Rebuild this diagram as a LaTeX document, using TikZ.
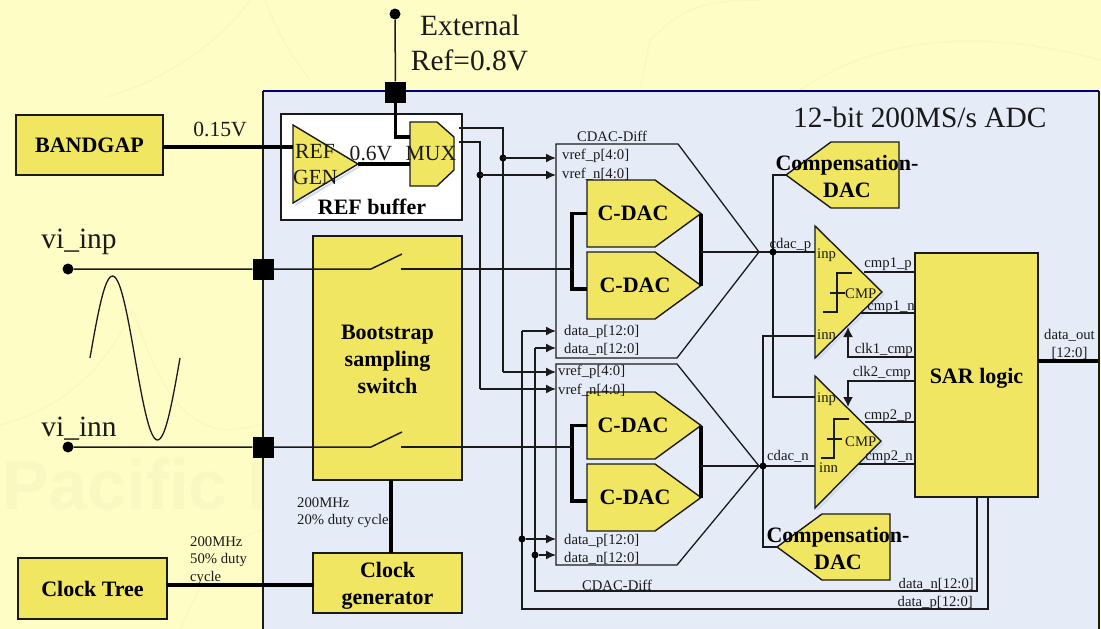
\documentclass[tikz,border=0pt]{standalone}
\usepackage{fontspec}
\setmainfont{Liberation Serif}
\newfontfamily\wmfont{Liberation Sans}
\usetikzlibrary{arrows.meta}
\definecolor{bgy}{HTML}{FFFDC6}
\definecolor{wm}{HTML}{F9F7C2}
\definecolor{panel}{HTML}{E6ECF7}
\definecolor{ybox}{HTML}{F0E662}
\definecolor{ink}{HTML}{1A1A1A}
\definecolor{shade}{HTML}{CDDCF0}
\newcommand{\fs}[1]{\fontsize{#1}{#1}\selectfont}
\newcommand{\ybfont}{\bfseries\fontsize{22}{27}\selectfont}
\tikzset{
 x=1pt,y=-1pt,
 wire/.style={draw=ink,line width=1.5pt},
 thick wire/.style={draw=black,line width=3.2pt},
 arr/.style={wire,-{Latex[length=10pt,width=9pt]}},
 yb/.style={draw=ink,fill=ybox,line width=1.4pt},
 ybn/.style={yb,rectangle,anchor=north west,inner sep=0pt,outer sep=0pt,align=center,font=\ybfont},
 sq/.style={fill=black,minimum size=21pt,inner sep=0pt},
 pin/.style={circle,fill=black,minimum size=11pt,inner sep=0pt},
 jdb/.style={circle,fill=black,minimum size=7pt,inner sep=0pt},
 sm/.style={inner sep=0pt,text=ink,font=\fs{14.7},yshift=-1pt},
 big/.style={inner sep=0pt,text=ink,font=\fs{29.4},yshift=-1pt},
 bl/.style={inner sep=0pt,text=black,font=\ybfont},
 mid/.style={inner sep=0pt,text=ink,font=\fs{21.6}},
 shadeline/.style={draw=shade,line width=2pt},
}
\begin{document}
\begin{tikzpicture}
\useasboundingbox (0,0) rectangle (1101,629);
\fill[bgy] (0,0) rectangle (1101,629);
% faint watermark
\begin{scope}[draw=wm,line width=1.5pt]
\draw (107,97) .. controls (180,75) and (230,30) .. (250,0);
\draw (265,0) .. controls (280,40) and (295,60) .. (310,80);
\draw (0,425) .. controls (60,410) and (105,370) .. (133,310);
\draw (133,310) .. controls (150,360) and (175,430) .. (230,430) -- (262,425);
\draw (180,629) .. controls (210,560) and (230,540) .. (262,530);
\draw (640,90) -- (650,40) .. controls (680,10) and (700,0) .. (760,0);
\draw (800,90) .. controls (860,50) and (950,20) .. (1101,60);
\end{scope}
\node[text=wm,font=\wmfont\bfseries\fs{70},inner sep=0pt,anchor=west] (wmtext) at (2,484) {Pacific I};
% panel
\fill[panel] (263,91) rectangle (1099,629);
\draw[draw=ink,line width=1.5pt] (263,629) -- (263,91);
\draw[draw=ink,line width=1.5pt] (1099,91) -- (1099,629);
\draw[draw=blue!45!black,line width=2pt] (263,91) -- (1099,91);

\node[big,anchor=west] (title) at (793,116) {12-bit 200MS/s ADC};
\node[big,anchor=center] (ext1) at (470,24) {External};
\node[big,anchor=center] (ext2) at (469.5,59) {Ref=0.8V};

% REF buffer
\node[draw=ink,fill=white,line width=1.4pt,minimum width=181pt,minimum height=106pt,anchor=north west,inner sep=0pt,outer sep=0pt] (refbuf) at (281,114) {};
\node[bl] (refbuflbl) at (372,207) {REF buffer};

% BANDGAP, clock, boxes
\node[ybn,minimum width=147pt,minimum height=60pt] (bandgap) at (16,115) {BANDGAP};
\node[ybn,minimum width=149pt,minimum height=61pt] (clktree) at (18,558) {\rule{0pt}{17pt}Clock Tree};
\node[ybn,minimum width=149pt,minimum height=60pt] (clkgen) at (313,553) {\rule{0pt}{21pt}Clock\\generator};
\node[ybn,minimum width=149pt,minimum height=244pt] (boot) at (313,236) {\rule{0pt}{18pt}Bootstrap\\sampling\\switch};
\node[ybn,minimum width=123pt,minimum height=244pt] (sar) at (915,253) {\rule{0pt}{22pt}SAR logic};

% CDAC-Diff outlines
\draw[draw=ink,line width=1.3pt] (556,144) -- (678,144) -- (759,252) -- (677,358) -- (556,358) -- cycle;
\draw[draw=ink,line width=1.3pt] (556,364) -- (677,364) -- (759,466) -- (677,565) -- (556,565) -- cycle;
\coordinate (tipU) at (759,252);
\coordinate (tipL) at (759,466);
\node[sm] (cd1) at (612,135) {CDAC-Diff};
\node[sm] (cd2) at (617,584) {CDAC-Diff};

% named end coordinates
\coordinate (vpU) at (556,158);
\coordinate (vnU) at (556,175);
\coordinate (vpL) at (556,372);
\coordinate (vnL) at (556,389);
\coordinate (dpU) at (556,331);
\coordinate (dnU) at (556,348);
\coordinate (dpL) at (556,539);
\coordinate (dnL) at (556,555);

% MUX + REF triangle
\draw[shadeline] (295,205) -- (360,166);
\draw[yb] (293,125) -- (293,203) -- (358,164) -- cycle;
\coordinate (refout) at (358,164);
\draw[yb] (410,122) -- (437,122) -- (454,137) -- (454,170) -- (437,186) -- (410,186) -- cycle;
\coordinate (muxa) at (410,137);
\coordinate (muxb) at (410,164);
\coordinate (muxo1) at (459,128);
\coordinate (muxo2) at (459,142);
\coordinate (refin) at (293,147);
\coordinate (bgout) at (163,147);
\draw[thick wire] (bgout) -- (refin);
\draw[thick wire] (refout) -- (muxb);
\node[mid,anchor=west] (reftxt) at (295,151) {REF};
\node[mid,anchor=west] (gentxt) at (293,177) {GEN};
\node[mid] (v06) at (371,153) {0.6V};
\node[mid,anchor=west] (muxtxt) at (405.5,154) {MUX};
\node[mid] (v015) at (220,129) {0.15V};

% External ref
\node[pin] (extpin) at (395,14) {};
\node[sq] (extsq) at (395.5,92) {};
\draw[wire] (extpin) -- (extsq);
\draw[thick wire] (extsq.south) -- (395.5,137) -- (muxa);

% MUX outputs
\coordinate (j1) at (503,158);
\coordinate (j2) at (480,175);
\draw[wire] (muxo1) -| (503,372);
\draw[arr] (503,372) -- (vpL);
\draw[wire] (muxo2) -| (480,389);
\draw[arr] (480,389) -- (vnL);
\node[jdb] (d1) at (j1) {};
\node[jdb] (d2) at (j2) {};
\draw[arr] (j1) -- (vpU);
\draw[arr] (j2) -- (vnU);

% C-DACs
\newcommand{\cdac}[3]{% name, top y, text x
 \draw[yb] (587,#2) -- (655,#2) -- (701,#2+33.5) -- (655,#2+67) -- (587,#2+67) -- cycle;
 \node[bl] (#1) at (#3,#2+33) {C-DAC};
 \coordinate (#1in) at (587,#2+33.5);
 \coordinate (#1out) at (701,#2+33.5);
}
\cdac{cda}{180}{633}
\cdac{cdb}{252}{635}
\cdac{cdc}{392}{633}
\cdac{cdd}{464}{635}
\draw[thick wire] (cdain) -- (572,213.5) -- (572,289) -- (587,289);
\draw[thick wire] (cdcin) -- (572,425.5) -- (572,501) -- (587,501);
\draw[thick wire] (cdaout) -- (cdbout);
\draw[thick wire] (cdcout) -- (cddout);
\coordinate (busU) at (701,252);
\coordinate (busL) at (701,466);
\draw[wire] (busU) -- (tipU);
\draw[wire] (busL) -- (tipL);

% input labels
\node[sm,anchor=west] at (562,155) (l1) {vref\_p[4:0]};
\node[sm,anchor=west] at (562,173) (l2) {vref\_n[4:0]};
\node[sm,anchor=west] at (564,331) (l3) {data\_p[12:0]};
\node[sm,anchor=west] at (564,348) (l4) {data\_n[12:0]};
\node[sm,anchor=west] at (558,371) (l5) {vref\_p[4:0]};
\node[sm,anchor=west] at (558,389) (l6) {vref\_n[4:0]};
\node[sm,anchor=west] at (564,540) (l7) {data\_p[12:0]};
\node[sm,anchor=west] at (564,557) (l8) {data\_n[12:0]};

% Compensation DACs
\draw[yb] (786,175) -- (831,142) -- (899,142) -- (899,208) -- (831,208) -- cycle;
\coordinate (cpa) at (786,175);
\node[bl,align=center,anchor=center] (cpat) at (847,176) {Compensation-\\DAC};
\draw[yb] (777,547) -- (822,514) -- (890,514) -- (890,580) -- (822,580) -- cycle;
\coordinate (cpb) at (777,547);
\node[bl,align=center,anchor=center] (cpbt) at (838,548) {Compensation-\\DAC};

% Comparators
\draw[shadeline] (817,360) -- (884,294);
\draw[shadeline] (817,510) -- (883,443);
\draw[yb] (815,226) -- (882,292) -- (815,358) -- cycle;
\draw[yb] (815,376) -- (881,441) -- (815,508) -- cycle;
\draw[wire,line width=1.2pt] (823,312) -- (837,312) -- (837,273) -- (852,273);
\draw[wire,line width=1.2pt] (830,293) -- (845,293);
\draw[wire,line width=1.2pt] (821,458) -- (834,458) -- (834,419) -- (849,419);
\draw[wire,line width=1.2pt] (827,439) -- (842,439);
\node[sm,anchor=west] (cmpa) at (845,293) {CMP};
\node[sm,anchor=west] (cmpb) at (845,441) {CMP};
\node[sm,anchor=west] (inpa) at (817,254) {inp};
\node[sm,anchor=west] (inna) at (817,334) {inn};
\node[sm,anchor=west] (inpb) at (817,398) {inp};
\node[sm,anchor=west] (innb) at (819,467) {inn};

\coordinate (cAp) at (815,252);
\coordinate (cAn) at (815,336);
\coordinate (cBp) at (815,397);
\coordinate (cBn) at (815,466);
\coordinate (jp) at (773,252);
\coordinate (jn) at (763,466);
\draw[wire] (tipU) -- (cAp);
\draw[wire] (tipL) -- (cBn);
\draw[wire] (cpa) -| (773,397) -- (cBp);
\draw[wire] (cpb) -| (763,336) -- (cAn);
\node[jdb] (jpd) at (jp) {};
\node[jdb] (jnd) at (jn) {};
\node[sm] (cdp) at (790.5,244) {cdac\_p};
\node[sm] (cdn) at (788,455) {cdac\_n};

% Comparator outputs
\draw[wire] (864,272) -- (915,272);
\draw[wire] (860,313) -- (915,313);
\draw[wire] (865,422) -- (915,422);
\draw[wire] (858,464) -- (915,464);
\draw[wire,-{Latex[length=10pt,width=10pt]}] (915,357) -- (848,357) -- (848,327);
\draw[wire,-{Latex[length=10pt,width=10pt]}] (915,381) -- (848,381) -- (848,407);
\node[sm,anchor=east] (o1) at (912,263) {cmp1\_p};
\node[sm,anchor=east] (o2) at (915,306) {cmp1\_n};
\node[sm,anchor=east] (o3) at (913,349) {clk1\_cmp};
\node[sm,anchor=east] (o4) at (911,372) {clk2\_cmp};
\node[sm,anchor=east] (o5) at (912,415) {cmp2\_p};
\node[sm,anchor=east] (o6) at (913,456) {cmp2\_n};

% SAR outputs
\coordinate (dout) at (1098,361);
\draw[thick wire] (1038,361) -- (dout);
\node[sm] (dolbl1) at (1069.5,334) {data\_out};
\node[sm] (dolbl2) at (1069.5,352) {[12:0]};
\coordinate (sarn) at (977,497);
\coordinate (sarp) at (988,497);
\draw[wire] (sarn) -- (977,591) -- (535,591) -- (535,348);
\draw[wire] (sarp) -- (988,609) -- (522,609) -- (522,331);
\draw[arr] (522,331) -- (dpU);
\draw[arr] (535,348) -- (dnU);
\node[jdb] (d3) at (522,539) {};
\node[jdb] (d4) at (535,555) {};
\draw[arr] (d3) -- (dpL);
\draw[arr] (d4) -- (dnL);
\node[sm,anchor=east] (dn2) at (974,583) {data\_n[12:0]};
\node[sm,anchor=east] (dp2) at (973,602) {data\_p[12:0]};

% Inputs
\node[big] (viinp) at (79,241) {vi\_inp};
\node[big] (viinn) at (79,428) {vi\_inn};
\node[pin] (pinp) at (68,269) {};
\node[pin] (pinn) at (68,447) {};
\node[sq] (sqp) at (263,269) {};
\node[sq] (sqn) at (263,447) {};
\draw[wire] (pinp) -- (sqp) -- (371,269) -- (402,254);
\draw[wire] (pinn) -- (sqn) -- (371,447) -- (402,432);
\draw[wire] (401,269) -- (572,269);
\draw[wire] (401,447) -- (572,447);
% sine
\draw[draw=ink,line width=1.3pt,smooth,samples=60,domain=90:180] plot (\x,{358-82*sin(4*(\x-90))});

% Clock wires
\draw[thick wire] (167,585) -- (314,585);
\draw[thick wire] (391,480) -- (391,553);
\node[sm,anchor=west] (c1a) at (190,541) {200MHz};
\node[sm,anchor=west] (c1b) at (190,559) {50\% duty};
\node[sm,anchor=west] (c1c) at (190,577) {cycle};
\node[sm,anchor=west] (c2a) at (297,502) {200MHz};
\node[sm,anchor=west] (c2b) at (297,520) {20\% duty cycle};
\end{tikzpicture}
\end{document}
